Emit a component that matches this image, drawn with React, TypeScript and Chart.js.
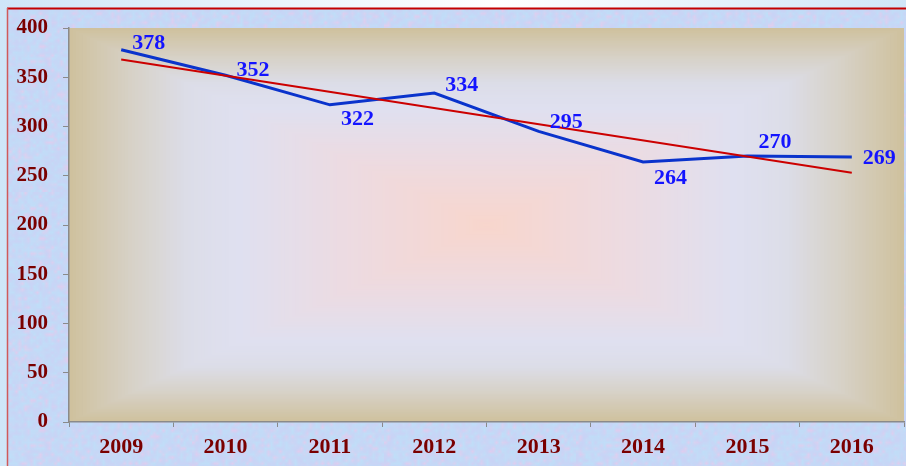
import React, { useEffect, useRef } from "react";
import { Chart, registerables } from "chart.js";

Chart.register(...registerables);

const YEARS = ["2009", "2010", "2011", "2012", "2013", "2014", "2015", "2016"];
const VALUES = [378, 352, 322, 334, 295, 264, 270, 269];
const TREND = [368, null, null, null, null, null, null, 253];
const Y_MIN = 0;
const Y_MAX = 400;
const Y_STEP = 50;

// vertical offsets (px) of the value labels relative to each point
const LABEL_DY = [-6, -5, 14, -8, -9, 16, -14, 1];

const FONT = "'Liberation Serif', 'Times New Roman', serif";

const GRAD_STOPS: [number, number[]][] = [
  [0.0, [248, 214, 204]],
  [0.15, [243, 216, 214]],
  [0.35, [236, 219, 226]],
  [0.6, [223, 224, 240]],
  [0.72, [220, 221, 232]],
  [0.85, [215, 210, 200]],
  [1.0, [207, 193, 158]],
];

function gradColor(t: number) {
  for (let i = 1; i < GRAD_STOPS.length; i++) {
    const [t1, c1] = GRAD_STOPS[i];
    const [t0, c0] = GRAD_STOPS[i - 1];
    if (t <= t1) {
      const f = (t - t0) / (t1 - t0);
      const c = c0.map((v, k) => Math.round(v + (c1[k] - v) * f));
      return `rgb(${c[0]},${c[1]},${c[2]})`;
    }
  }
  const c = GRAD_STOPS[GRAD_STOPS.length - 1][1];
  return `rgb(${c[0]},${c[1]},${c[2]})`;
}

function hash(x: number, y: number, s: number) {
  const v = Math.sin(x * 12.9898 + y * 78.233 + s * 37.719) * 43758.5453;
  return v - Math.floor(v);
}

function makeTexture(): HTMLCanvasElement {
  const n = 64;
  const small = document.createElement("canvas");
  small.width = n;
  small.height = n;
  const sctx = small.getContext("2d")!;
  const img = sctx.createImageData(n, n);
  const blue = [192, 222, 248];
  const lav = [206, 206, 244];
  const pink = [232, 202, 236];
  for (let y = 0; y < n; y++) {
    for (let x = 0; x < n; x++) {
      const a = hash(x, y, 1);
      const b = hash(x, y, 2);
      const c = blue.map((v, k) => v * (1 - a * 0.7) + lav[k] * a * 0.7);
      const w = b > 0.75 ? (b - 0.75) * 3 : 0;
      const d = c.map((v, k) => v * (1 - w) + pink[k] * w);
      const i = (y * n + x) * 4;
      img.data[i] = d[0];
      img.data[i + 1] = d[1];
      img.data[i + 2] = d[2];
      img.data[i + 3] = 255;
    }
  }
  sctx.putImageData(img, 0, 0);
  const big = document.createElement("canvas");
  big.width = n * 3;
  big.height = n * 3;
  const bctx = big.getContext("2d")!;
  bctx.imageSmoothingEnabled = true;
  bctx.drawImage(small, 0, 0, n * 3, n * 3);
  return big;
}

const backgroundPlugin = {
  id: "bgPlugin",
  beforeDraw(chart: any) {
    const ctx: CanvasRenderingContext2D = chart.ctx;
    const W = chart.width;
    const H = chart.height;
    ctx.save();
    // outer light-blue frame
    const og = ctx.createLinearGradient(0, 0, W, 0);
    og.addColorStop(0, "#cfe6f8");
    og.addColorStop(0.55, "#ffffff");
    og.addColorStop(1, "#cfe6f8");
    ctx.fillStyle = og;
    ctx.fillRect(0, 0, W, H);
    // textured panel
    const tex = makeTexture();
    const pat = ctx.createPattern(tex, "repeat");
    ctx.fillStyle = "#cad6f4";
    ctx.fillRect(7, 8, W - 7, H - 8);
    if (pat) {
      ctx.fillStyle = pat;
      ctx.fillRect(7, 8, W - 7, H - 8);
    }
    // red border
    ctx.strokeStyle = "#c40000";
    ctx.lineWidth = 2;
    ctx.beginPath();
    ctx.moveTo(7, 8.5);
    ctx.lineTo(W, 8.5);
    ctx.stroke();
    ctx.strokeStyle = "#d05a5a";
    ctx.lineWidth = 1.5;
    ctx.beginPath();
    ctx.moveTo(7.5, 8);
    ctx.lineTo(7.5, H);
    ctx.stroke();
    // plot area rectangular gradient
    const a = chart.chartArea;
    const cx = (a.left + a.right) / 2;
    const cy = (a.top + a.bottom) / 2;
    const hw = (a.right - a.left) / 2;
    const hh = (a.bottom - a.top) / 2;
    const N = 120;
    for (let i = N; i >= 1; i--) {
      const t = i / N;
      ctx.fillStyle = gradColor(t);
      ctx.fillRect(cx - hw * t, cy - hh * t, hw * 2 * t, hh * 2 * t);
    }
    ctx.restore();
  },
};

const labelPlugin = {
  id: "valueLabels",
  afterDatasetsDraw(chart: any) {
    const ctx: CanvasRenderingContext2D = chart.ctx;
    const meta = chart.getDatasetMeta(0);
    ctx.save();
    ctx.font = `bold 22px ${FONT}`;
    ctx.fillStyle = "#1414ff";
    ctx.textAlign = "left";
    ctx.textBaseline = "middle";
    meta.data.forEach((pt: any, i: number) => {
      ctx.fillText(String(VALUES[i]), pt.x + 11, pt.y + LABEL_DY[i]);
    });
    ctx.restore();
  },
};

export default function App() {
  const ref = useRef<HTMLCanvasElement>(null);
  useEffect(() => {
    if (!ref.current) return;
    const chart = new Chart(ref.current, {
      type: "line",
      data: {
        labels: YEARS,
        datasets: [
          {
            data: VALUES,
            borderColor: "#0a33cc",
            borderWidth: 3,
            pointRadius: 0,
            tension: 0,
            order: 1,
          },
          {
            data: TREND as any,
            borderColor: "#cc0000",
            borderWidth: 2,
            pointRadius: 0,
            spanGaps: true,
            tension: 0,
            order: 0,
          },
        ],
      },
      options: {
        responsive: false,
        animation: false,
        devicePixelRatio: 1,
        layout: { padding: { top: 28, right: 2, left: 0, bottom: 0 } },
        plugins: {
          legend: { display: false },
          tooltip: { enabled: false },
        },
        scales: {
          x: {
            offset: true,
            grid: {
              offset: true,
              drawOnChartArea: false,
              tickLength: 5,
              color: "#8a8a8a",
            },
            border: { color: "#8a8a8a", width: 1.5 },
            ticks: {
              color: "#7a0000",
              padding: 7,
              font: { family: FONT, size: 22, weight: "bold" },
              maxRotation: 0,
            },
            afterFit(s: any) {
              s.height = 44;
            },
          },
          y: {
            min: Y_MIN,
            max: Y_MAX,
            grid: {
              drawOnChartArea: false,
              tickLength: 6,
              color: "#8a8a8a",
            },
            border: { color: "#8a8a8a", width: 1.5 },
            ticks: {
              stepSize: Y_STEP,
              color: "#7a0000",
              padding: 15,
              font: { family: FONT, size: 21, weight: "bold" },
            },
            afterFit(s: any) {
              s.width = 69;
            },
          },
        },
      },
      plugins: [backgroundPlugin, labelPlugin],
    });
    return () => chart.destroy();
  }, []);
  return (
    <div style={{ position: "fixed", left: 0, top: 0, width: 906, height: 466 }}>
      <canvas ref={ref} width={906} height={466} style={{ display: "block" }} />
    </div>
  );
}
